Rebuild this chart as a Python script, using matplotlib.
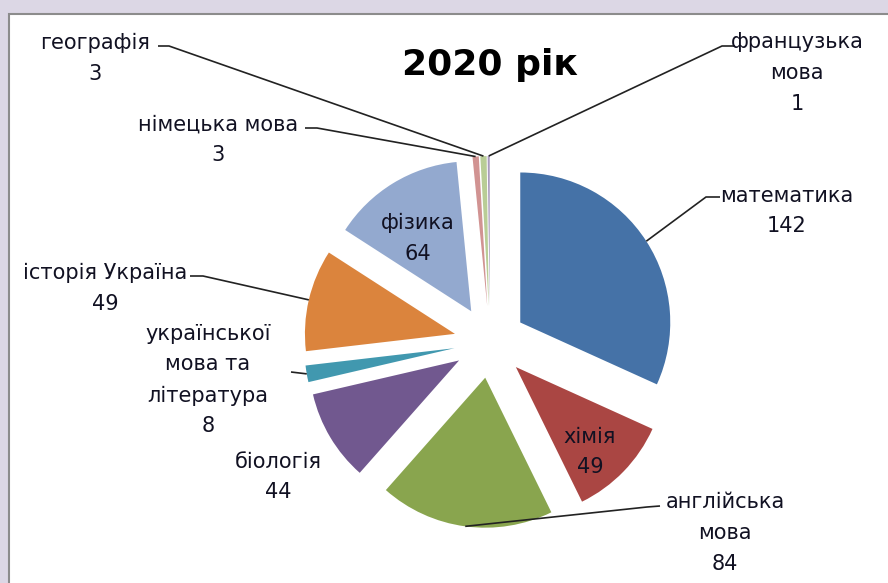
import matplotlib.pyplot as plt
from matplotlib.patches import Rectangle
import numpy as np

# data, clockwise from 12 o'clock
subjects = ['математика', 'хімія', 'англійська\nмова', 'біологія',
            'української\nмова та\nлітература', 'історія Україна', 'фізика',
            'німецька мова', 'географія', 'французька\nмова']
counts = [142, 49, 84, 44, 8, 49, 64, 3, 3, 1]
colors = ['#4572A7', '#AA4643', '#89A54E', '#71588F', '#4198AF',
          '#DB843D', '#93A9CF', '#D19392', '#B9CD96', '#A99BBD']

W, H = 888, 583
CX, CY, R = 490, 342, 150.0  # pie centre / radius in pixels


def px(x, y):
    # pixel position -> data units (radius = 1)
    return (x - CX) / R, (CY - y) / R


fig = plt.figure(figsize=(W / 100, H / 100), dpi=100)
fig.patch.set_facecolor('#DCD7E5')

ax = fig.add_axes([0, 0, 1, 1])
ax.patch.set_alpha(0)

wedges, _ = ax.pie(counts, colors=colors, startangle=90, counterclock=False,
                   explode=[0.24] * len(counts), radius=1.0,
                   wedgeprops=dict(linewidth=0))

ax.set_xlim(-CX / R, (W - CX) / R)
ax.set_ylim((CY - H) / R, CY / R)
ax.set_aspect('equal')
ax.axis('off')

# white chart area with grey frame
ax.add_patch(Rectangle((9 / W, -0.1), 1.2, 1.1 - 14 / H, transform=ax.transAxes,
                       facecolor='white', edgecolor='#8C8C8C', lw=1.5,
                       zorder=0, clip_on=False))

FS = 15


def label(i, x, y):
    ax.text(*px(x, y), f'{subjects[i]}\n{counts[i]}', ha='center', va='center',
            fontsize=FS, linespacing=1.68, color='#111122')


def arc_point(i):
    w = wedges[i]
    t = np.deg2rad((w.theta1 + w.theta2) / 2)
    return w.center[0] + w.r * np.cos(t), w.center[1] + w.r * np.sin(t)


def leader(i, stub):
    pts = [px(*p) for p in stub] + [arc_point(i)]
    xs, ys = zip(*pts)
    ax.plot(xs, ys, color='#222222', lw=1.2, solid_capstyle='butt')


# label positions (pixels) and leader stubs
label(0, 787, 211)
leader(0, [(720, 197), (706, 197)])
label(1, 590, 452)
label(2, 725, 533)
leader(2, [(660, 506), (647, 507)])
label(3, 278, 477)
label(4, 208, 380)
leader(4, [(291, 372)])
label(5, 105, 288)
leader(5, [(190, 276), (203, 276)])
label(6, 418, 238)
label(7, 218, 140)
leader(7, [(305, 128), (317, 128)])
label(8, 95, 58)
leader(8, [(158, 46), (169, 46)])
label(9, 797, 73)
leader(9, [(735, 46), (722, 46)])

ax.text(*px(490, 65), '2020 рік', ha='center', va='center',
        fontsize=26, fontweight='bold', color='black')

fig.savefig('out.png', dpi=100)
